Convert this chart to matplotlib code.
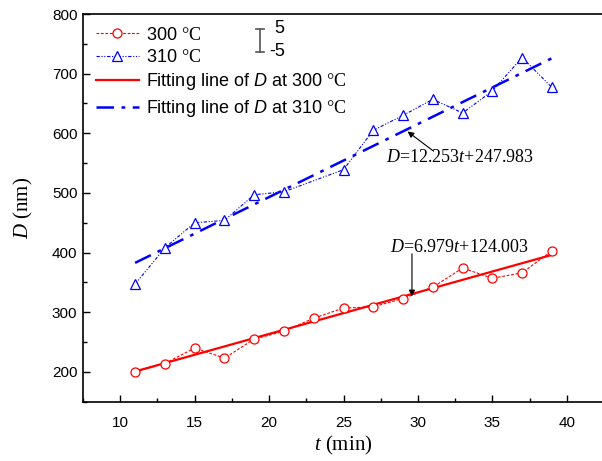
import numpy as np
import matplotlib
matplotlib.use("Agg")
import matplotlib.pyplot as plt
from matplotlib.lines import Line2D
from matplotlib.ticker import MultipleLocator

plt.rcParams['font.family'] = ['Liberation Sans', 'DejaVu Sans']
plt.rcParams['mathtext.fontset'] = 'custom'
plt.rcParams['mathtext.rm'] = 'Liberation Serif'
plt.rcParams['mathtext.it'] = 'Liberation Serif:italic'
plt.rcParams['mathtext.sf'] = 'Liberation Sans:italic'

# measured grain size D (nm) vs time t (min)
t_300 = [11, 13, 15, 17, 19, 21, 23, 25, 27, 29, 31, 33, 35, 37, 39]
d_300 = [200, 214, 240, 223, 255, 268, 290, 307, 309, 323, 342, 374, 357, 366, 403]
t_310 = [11, 13, 15, 17, 19, 21, 25, 27, 29, 31, 33, 35, 37, 39]
d_310 = [347, 408, 450, 454, 497, 502, 539, 605, 630, 657, 634, 671, 727, 677]
err = 5

# linear fits
fit_300 = (6.979, 124.003)
fit_310 = (12.253, 247.983)
fit_t = [11, 39]

red = '#ff0000'
blue = '#0000ff'

fig = plt.figure(figsize=(6.02, 4.61), dpi=100)
ax = fig.add_axes([83 / 602, 59.3 / 461, 521 / 602, 387.7 / 461])

ax.errorbar(t_300, d_300, yerr=err, color=red, ls=(0, (2.5, 1.5)), lw=0.8,
            marker='o', ms=6.5, mfc='white', mec=red, mew=0.9, elinewidth=0.6, capsize=0)
ax.errorbar(t_310, d_310, yerr=err, color=blue, ls=(0, (3, 1.5, 1, 1.5, 1, 1.5)), lw=0.8,
            marker='^', ms=7.5, mfc='white', mec=blue, mew=0.9, elinewidth=0.6, capsize=0)

ft = np.array(fit_t)
ax.plot(ft, fit_300[0] * ft + fit_300[1], color=red, lw=1.6)
ax.plot(ft, fit_310[0] * ft + fit_310[1], color=blue, lw=1.8, ls=(0, (7, 3, 1.5, 3)))

ax.set_xlim(7.5, 42.5)
ax.set_ylim(150, 800)
ax.xaxis.set_major_locator(MultipleLocator(5))
ax.xaxis.set_minor_locator(MultipleLocator(2.5))
ax.yaxis.set_major_locator(MultipleLocator(100))
ax.yaxis.set_minor_locator(MultipleLocator(50))
ax.tick_params(which='both', direction='in', labelsize=11, width=1)
ax.tick_params(which='major', length=5)
ax.tick_params(which='minor', length=3)
ax.tick_params(axis='x', pad=10)
ax.tick_params(axis='y', pad=4)
for s in ax.spines.values():
    s.set_linewidth(1.2)

ax.set_xlabel('$t$ (min)', fontfamily='Liberation Serif', fontsize=15, labelpad=3)
ax.set_ylabel('$D$ (nm)', fontfamily='Liberation Serif', fontsize=15, labelpad=12)

# equations with arrows
tx = 29.6
ax.annotate('', xy=(tx, fit_300[0] * tx + fit_300[1] - 4), xytext=(tx, 398),
            arrowprops=dict(arrowstyle='-|>', color='black', lw=0.8,
                            mutation_scale=9, shrinkA=0, shrinkB=0))
ax.text(32.8, 408, '$D$=6.979$t$+124.003', fontfamily='Liberation Serif',
        fontsize=13, ha='center', va='center')
tx = 29.3
ax.annotate('', xy=(tx, fit_310[0] * tx + fit_310[1] - 4), xytext=(31.0, 571),
            arrowprops=dict(arrowstyle='-|>', color='black', lw=0.8,
                            mutation_scale=9, shrinkA=0, shrinkB=0))
ax.text(32.8, 559, '$D$=12.253$t$+247.983', fontfamily='Liberation Serif',
        fontsize=13, ha='center', va='center')

handles = [
    Line2D([], [], color=red, ls=(0, (2.5, 1.5)), lw=0.8, marker='o', ms=6.5,
           mfc='white', mec=red, mew=0.9),
    Line2D([], [], color=blue, ls=(0, (3, 1.5, 1, 1.5, 1, 1.5)), lw=0.8, marker='^', ms=7.5,
           mfc='white', mec=blue, mew=0.9),
    Line2D([], [], color=red, lw=1.6),
    Line2D([], [], color=blue, lw=1.8, ls=(0, (7, 3, 1.5, 3))),
]
labels = ['300 $\\mathrm{°C}$', '310 $\\mathrm{°C}$',
          'Fitting line of $\\mathsf{D}$ at 300 $\\mathrm{°C}$',
          'Fitting line of $\\mathsf{D}$ at 310 $\\mathrm{°C}$']
ax.legend(handles, labels, loc='upper left', frameon=False, fontsize=13,
          handlelength=2.4, handletextpad=0.4, labelspacing=0.3,
          borderaxespad=0.3, bbox_to_anchor=(0.0, 1.0))

# error bar scale key
ex, ey0, ey1 = 0.340, 0.902, 0.962
ax.plot([ex, ex], [ey0, ey1], color='#555555', lw=1.2, transform=ax.transAxes)
ax.plot([ex - 0.008, ex + 0.008], [ey1, ey1], color='#555555', lw=1.2, transform=ax.transAxes)
ax.plot([ex - 0.008, ex + 0.008], [ey0, ey0], color='#555555', lw=1.2, transform=ax.transAxes)
ax.text(0.368, 0.962, '5', fontsize=13, transform=ax.transAxes, va='center')
ax.text(0.357, 0.902, '-5', fontsize=13, transform=ax.transAxes, va='center')

fig.savefig('out.png', dpi=100)
